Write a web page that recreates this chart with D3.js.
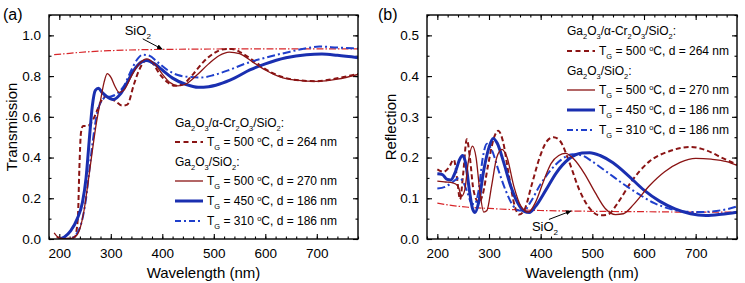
<!DOCTYPE html>
<html>
<head>
<meta charset="utf-8">
<script src="https://cdn.jsdelivr.net/npm/d3@7"></script>
<style>
  body { margin: 0; background: #fff; }
  svg { font-family: "Liberation Sans", Arial, sans-serif; }
</style>
</head>
<body>
<script>
(function (d3) {
  "use strict";

  /***** Data *****/
  var wlTicks = [200, 300, 400, 500, 600, 700];
  var transTicks = [0, 0.2, 0.4, 0.6, 0.8, 1.0];
  var reflTicks = [0, 0.1, 0.2, 0.3, 0.4, 0.5];

  // transmission, [wavelength nm, T]
  var transSiO2 = [[190,0.905],[220,0.912],[260,0.92],[300,0.925],[350,0.929],[400,0.931],[500,0.933],[600,0.934],[780,0.934]];
  var transCr264 = [[195,0.01],[210,0.0],[230,0.01],[236,0.1],[239,0.35],[242,0.52],[246,0.555],[255,0.555],[262,0.57],[270,0.61],[280,0.67],[290,0.70],[300,0.69],[310,0.675],[322,0.655],[332,0.66],[345,0.76],[355,0.83],[368,0.875],[380,0.865],[395,0.81],[410,0.77],[425,0.752],[440,0.76],[460,0.81],[480,0.87],[500,0.912],[520,0.932],[535,0.933],[555,0.912],[580,0.87],[610,0.82],[640,0.79],[670,0.778],[700,0.775],[730,0.785],[760,0.8],[780,0.81]];
  var trans500 = [[190,0.03],[200,0.005],[215,0.0],[230,0.01],[240,0.05],[248,0.14],[256,0.28],[264,0.43],[272,0.57],[280,0.68],[287,0.77],[293,0.812],[300,0.795],[308,0.75],[316,0.72],[325,0.73],[340,0.8],[355,0.86],[370,0.885],[385,0.86],[400,0.81],[415,0.768],[430,0.752],[445,0.76],[465,0.8],[490,0.86],[510,0.9],[530,0.918],[550,0.91],[575,0.87],[600,0.83],[630,0.795],[660,0.78],[700,0.774],[740,0.785],[780,0.808]];
  var trans450 = [[200,0.0],[210,0.01],[222,0.04],[235,0.1],[245,0.18],[252,0.3],[258,0.48],[264,0.65],[270,0.73],[276,0.74],[283,0.72],[292,0.7],[305,0.685],[318,0.71],[330,0.76],[345,0.83],[360,0.87],[370,0.877],[385,0.86],[400,0.83],[420,0.79],[445,0.76],[470,0.745],[490,0.748],[510,0.76],[540,0.79],[570,0.83],[600,0.86],[640,0.89],[680,0.905],[710,0.908],[740,0.902],[780,0.89]];
  var trans310 = [[205,0.0],[220,0.0],[235,0.03],[245,0.1],[252,0.2],[258,0.33],[265,0.48],[272,0.6],[280,0.67],[290,0.695],[300,0.70],[310,0.71],[325,0.75],[340,0.83],[352,0.885],[362,0.905],[375,0.9],[390,0.87],[410,0.83],[430,0.805],[455,0.795],[475,0.793],[500,0.805],[530,0.83],[560,0.86],[600,0.89],[640,0.915],[680,0.937],[705,0.945],[740,0.94],[780,0.935]];

  // reflection, [wavelength nm, R]
  var reflSiO2 = [[200,0.088],[230,0.082],[260,0.078],[300,0.075],[350,0.072],[400,0.07],[500,0.068],[600,0.067],[700,0.066],[780,0.066]];
  var reflCr264 = [[200,0.171],[212,0.165],[222,0.175],[232,0.195],[238,0.15],[244,0.097],[250,0.16],[257,0.245],[263,0.2],[270,0.12],[280,0.09],[288,0.11],[298,0.18],[310,0.25],[318,0.266],[327,0.24],[338,0.16],[350,0.08],[358,0.06],[368,0.07],[382,0.13],[398,0.2],[412,0.24],[425,0.25],[438,0.24],[455,0.19],[475,0.12],[495,0.075],[515,0.058],[530,0.06],[550,0.09],[575,0.14],[610,0.19],[650,0.216],[690,0.226],[720,0.218],[750,0.2],[780,0.183]];
  var refl500 = [[200,0.142],[215,0.14],[230,0.138],[240,0.13],[247,0.105],[253,0.12],[260,0.19],[268,0.228],[275,0.2],[282,0.12],[290,0.066],[296,0.07],[305,0.13],[315,0.2],[325,0.22],[335,0.2],[348,0.13],[362,0.08],[376,0.066],[390,0.09],[405,0.14],[420,0.185],[435,0.205],[448,0.21],[465,0.195],[485,0.16],[505,0.115],[525,0.075],[545,0.06],[560,0.062],[580,0.085],[610,0.13],[640,0.165],[670,0.188],[700,0.198],[730,0.196],[760,0.19],[780,0.181]];
  var refl450 = [[200,0.16],[210,0.158],[218,0.147],[226,0.145],[235,0.165],[243,0.195],[249,0.205],[255,0.185],[262,0.12],[268,0.075],[273,0.065],[280,0.09],[290,0.17],[300,0.225],[308,0.247],[316,0.235],[328,0.19],[342,0.13],[355,0.09],[368,0.068],[378,0.065],[390,0.08],[410,0.12],[430,0.162],[455,0.197],[480,0.211],[495,0.212],[515,0.205],[540,0.187],[570,0.155],[600,0.12],[630,0.093],[660,0.074],[690,0.062],[720,0.058],[750,0.061],[780,0.066]];
  var refl310 = [[200,0.124],[215,0.128],[230,0.14],[242,0.15],[250,0.14],[258,0.115],[266,0.088],[272,0.085],[280,0.12],[288,0.2],[296,0.234],[305,0.22],[318,0.17],[332,0.12],[345,0.085],[358,0.07],[368,0.07],[380,0.09],[400,0.135],[420,0.17],[440,0.195],[462,0.208],[480,0.205],[500,0.19],[530,0.163],[560,0.135],[590,0.11],[620,0.088],[650,0.074],[680,0.067],[710,0.066],[740,0.069],[760,0.073],[780,0.08]];

  // legend texts: segments [text, "sub"|"sup"|""]
  var groupCr = [["Ga",""],["2","sub"],["O",""],["3","sub"],["/\u03b1-Cr",""],["2","sub"],["O",""],["3","sub"],["/SiO",""],["2","sub"],[":",""]];
  var groupPlain = [["Ga",""],["2","sub"],["O",""],["3","sub"],["/SiO",""],["2","sub"],[":",""]];
  var labelCr264 = [["T",""],["G","sub"],[" = 500 ",""],["o","sup"],["C, d = 264 nm",""]];
  var label500 = [["T",""],["G","sub"],[" = 500 ",""],["o","sup"],["C, d = 270 nm",""]];
  var label450 = [["T",""],["G","sub"],[" = 450 ",""],["o","sup"],["C, d = 186 nm",""]];
  var label310 = [["T",""],["G","sub"],[" = 310 ",""],["o","sup"],["C, d = 186 nm",""]];
  var sio2Label = [["SiO",""],["2","sub"]];

  /***** Styles *****/
  var styles = {
    sio2: { color: "#d8262a", width: 1.2, dash: "7,2,1.5,2" },
    cr264: { color: "#8a1414", width: 2, dash: "5,3" },
    g500: { color: "#8a1414", width: 1.3, dash: null },
    g450: { color: "#1a2fb0", width: 3, dash: null },
    g310: { color: "#1f3fcc", width: 2, dash: "8,3,2,3" }
  };

  var svg = d3.select("body").append("svg")
      .attr("width", 745)
      .attr("height", 283);

  var defs = svg.append("defs");
  defs.append("marker")
      .attr("id", "arrow")
      .attr("viewBox", "0 0 10 10")
      .attr("refX", 9).attr("refY", 5)
      .attr("markerWidth", 6).attr("markerHeight", 6)
      .attr("orient", "auto")
    .append("path")
      .attr("d", "M0,1 L10,5 L0,9 z")
      .attr("fill", "#000");

  function richText(g, segs, x, y, size) {
    var t = g.append("text").attr("x", x).attr("y", y).attr("font-size", size);
    var shift = 0;
    segs.forEach(function (s) {
      var target = s[1] === "sub" ? size * 0.3 : (s[1] === "sup" ? -size * 0.4 : 0);
      var sp = t.append("tspan").text(s[0]).attr("dy", target - shift);
      if (s[1]) sp.attr("font-size", size * 0.62);
      shift = target;
    });
    return t;
  }

  function drawPanel(cfg) {
    var x = d3.scaleLinear().domain([180, 780]).range([cfg.x0, cfg.x1]);
    var y = d3.scaleLinear().domain(cfg.yDomain).range([cfg.y1, cfg.y0]);
    var g = svg.append("g");
    var w = cfg.x1 - cfg.x0, h = cfg.y1 - cfg.y0;

    var clipId = "clip-" + cfg.id;
    defs.append("clipPath").attr("id", clipId)
      .append("rect").attr("x", cfg.x0).attr("y", cfg.y0).attr("width", w).attr("height", h);

    var minorX = d3.range(180, 781, 20);
    var minorY = d3.range(cfg.yDomain[0], cfg.yDomain[1] + 1e-9, cfg.yMinor);

    function addAxis(axis, tr, labels) {
      var a = g.append("g").attr("transform", tr).call(axis);
      a.select(".domain").remove();
      a.selectAll("line").attr("stroke", "#000").attr("stroke-width", 1.1);
      a.selectAll("text").attr("font-size", 13.5).attr("fill", "#000")
        .attr("font-family", "'Liberation Sans', Arial, sans-serif");
      if (!labels) a.selectAll("text").remove();
      return a;
    }

    // bottom / top
    addAxis(d3.axisBottom(x).tickValues(minorX).tickSize(-2.5).tickFormat(""), "translate(0," + cfg.y1 + ")", false);
    addAxis(d3.axisBottom(x).tickValues(wlTicks).tickSize(-5).tickPadding(9).tickFormat(d3.format("d")), "translate(0," + cfg.y1 + ")", true);
    addAxis(d3.axisTop(x).tickValues(minorX).tickSize(-2.5).tickFormat(""), "translate(0," + cfg.y0 + ")", false);
    addAxis(d3.axisTop(x).tickValues(wlTicks).tickSize(-5).tickFormat(""), "translate(0," + cfg.y0 + ")", false);
    // left / right
    addAxis(d3.axisLeft(y).tickValues(minorY).tickSize(-2.5).tickFormat(""), "translate(" + cfg.x0 + ",0)", false);
    addAxis(d3.axisLeft(y).tickValues(cfg.yTicks).tickSize(-5).tickPadding(8).tickFormat(d3.format(".1f")), "translate(" + cfg.x0 + ",0)", true);
    addAxis(d3.axisRight(y).tickValues(minorY).tickSize(-2.5).tickFormat(""), "translate(" + cfg.x1 + ",0)", false);
    addAxis(d3.axisRight(y).tickValues(cfg.yTicks).tickSize(-5).tickFormat(""), "translate(" + cfg.x1 + ",0)", false);

    // curves
    var line = d3.line()
        .x(function (d) { return x(d[0]); })
        .y(function (d) { return y(d[1]); })
        .curve(d3.curveMonotoneX);

    var curves = g.append("g").attr("clip-path", "url(#" + clipId + ")");
    cfg.series.forEach(function (s) {
      var st = styles[s.style];
      curves.append("path")
        .datum(s.data)
        .attr("d", line)
        .attr("fill", "none")
        .attr("stroke", st.color)
        .attr("stroke-width", st.width)
        .attr("stroke-dasharray", st.dash)
        .attr("stroke-linejoin", "round");
    });

    // frame
    g.append("rect")
      .attr("x", cfg.x0).attr("y", cfg.y0).attr("width", w).attr("height", h)
      .attr("fill", "none").attr("stroke", "#000").attr("stroke-width", 1.4);

    // axis titles
    g.append("text")
      .attr("x", (cfg.x0 + cfg.x1) / 2).attr("y", 278)
      .attr("text-anchor", "middle").attr("font-size", 15)
      .text("Wavelength (nm)");
    g.append("text")
      .attr("transform", "translate(" + cfg.yTitleX + "," + ((cfg.y0 + cfg.y1) / 2) + ") rotate(-90)")
      .attr("text-anchor", "middle").attr("font-size", 15)
      .text(cfg.yTitle);
    g.append("text")
      .attr("x", cfg.tagX).attr("y", 20).attr("font-size", 16)
      .text(cfg.tag);

    // legend
    var lg = g.append("g");
    var row = cfg.legend.rowY;
    var fs = 12;
    richText(lg, groupCr, cfg.legend.x, row[0] + 4.3, fs);
    richText(lg, groupPlain, cfg.legend.x, row[2] + 4.3, fs);
    var items = [[row[1], "cr264", labelCr264], [row[3], "g500", label500], [row[4], "g450", label450], [row[5], "g310", label310]];
    items.forEach(function (it) {
      var st = styles[it[1]];
      lg.append("line")
        .attr("x1", cfg.legend.x).attr("x2", cfg.legend.x + 28)
        .attr("y1", it[0]).attr("y2", it[0])
        .attr("stroke", st.color).attr("stroke-width", st.width)
        .attr("stroke-dasharray", it[1] === "cr264" ? "5,3.5" : (it[1] === "g310" ? "6,3,2,3" : null));
      richText(lg, it[2], cfg.legend.x + 32, it[0] + 4.3, fs);
    });

    // SiO2 note
    var n = cfg.note;
    richText(g, sio2Label, x(n.text[0]), y(n.text[1]), 13);
    g.append("line")
      .attr("x1", x(n.tail[0])).attr("y1", y(n.tail[1]))
      .attr("x2", x(n.head[0])).attr("y2", y(n.head[1]))
      .attr("stroke", "#000").attr("stroke-width", 1)
      .attr("marker-end", "url(#arrow)");
  }

  drawPanel({
    id: "a", tag: "(a)", tagX: 3,
    x0: 49, x1: 358, y0: 15, y1: 239,
    yDomain: [0, 1.1], yTicks: transTicks, yMinor: 0.1,
    yTitle: "Transmission", yTitleX: 17,
    series: [
      { data: transSiO2, style: "sio2" },
      { data: transCr264, style: "cr264" },
      { data: trans310, style: "g310" },
      { data: trans450, style: "g450" },
      { data: trans500, style: "g500" }
    ],
    legend: { x: 175, rowY: [123, 142, 162, 181, 201, 221] },
    note: { text: [327, 1.0], tail: [362, 0.983], head: [400, 0.932] }
  });

  drawPanel({
    id: "b", tag: "(b)", tagX: 378,
    x0: 427, x1: 737, y0: 15, y1: 239,
    yDomain: [0, 0.55], yTicks: reflTicks, yMinor: 0.05,
    yTitle: "Reflection", yTitleX: 396,
    series: [
      { data: reflSiO2, style: "sio2" },
      { data: reflCr264, style: "cr264" },
      { data: refl310, style: "g310" },
      { data: refl450, style: "g450" },
      { data: refl500, style: "g500" }
    ],
    legend: { x: 567, rowY: [31, 51, 71, 90, 110, 130] },
    note: { text: [383, 0.02], tail: [416, 0.048], head: [459, 0.069] }
  });

})(d3);
</script>
</body>
</html>
